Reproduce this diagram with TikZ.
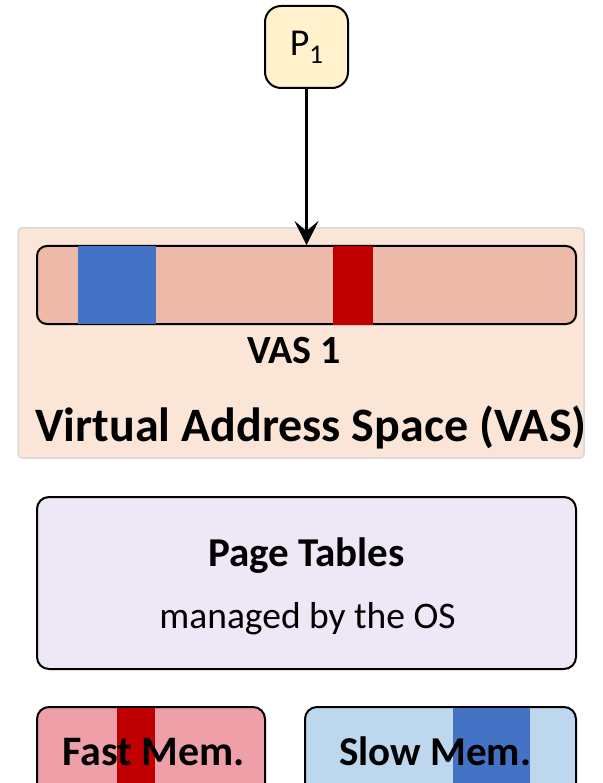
\documentclass[tikz,border=0pt]{standalone}
\usepackage{fontspec}
\setmainfont{Carlito}
\usetikzlibrary{arrows.meta}
\definecolor{procfill}{HTML}{FFF2CC}
\definecolor{vasfill}{HTML}{FBE5D6}
\definecolor{vasborder}{HTML}{D9D9D9}
\definecolor{barfill}{HTML}{EDBAAA}
\definecolor{pageblue}{HTML}{4472C4}
\definecolor{pagered}{HTML}{C00000}
\definecolor{ptfill}{HTML}{EEE7F5}
\definecolor{fastfill}{HTML}{EE9FA8}
\definecolor{slowfill}{HTML}{BDD7EE}
\tikzset{
  blackbox/.style={draw=black, line width=2pt, inner sep=0pt},
  boldlabel/.style={font=\bfseries\fontsize{#1}{#1}\selectfont, inner sep=0pt, anchor=base},
  plainlabel/.style={font=\fontsize{#1}{#1}\selectfont, inner sep=0pt, anchor=base},
}
\begin{document}
\begin{tikzpicture}[x=1pt,y=-1pt]
\useasboundingbox (0,0) rectangle (602,783);
\clip (0,0) rectangle (602,783);

% process
\node[blackbox, fill=procfill, rounded corners=16pt, minimum width=83pt, minimum height=82pt,
      font=\fontsize{38}{38}\selectfont] (p1) at (306.5,47)
  {P\raisebox{-8pt}{\fontsize{27}{27}\selectfont 1}};

% virtual address space container
\node[draw=vasborder, fill=vasfill, line width=1.5pt, rounded corners=4pt, inner sep=0pt,
      minimum width=566pt, minimum height=230pt] (vas) at (301,343) {};

% address range of VAS 1 with two mapped pages
\node[blackbox, fill=barfill, rounded corners=10pt, minimum width=539pt, minimum height=78pt]
  (bar) at (306.5,285) {};
\fill[pageblue] (78,246) rectangle (156,324);
\fill[pagered] (333,246) rectangle (373,325);

\draw[line width=3pt, -{Stealth[length=24pt,width=24pt,inset=10pt]}] (p1.south) -- (bar.north);

\node[boldlabel=40] (vas1) at (294,363) {VAS 1};
\node[boldlabel=48] (vastitle) at (311,441) {Virtual Address Space (VAS)};

% page tables
\node[blackbox, fill=ptfill, rounded corners=12pt, minimum width=539pt, minimum height=172pt]
  (pt) at (306.5,583) {};
\node[boldlabel=41] (pttitle) at (306.5,566) {Page Tables};
\node[plainlabel=37.5] (ptsub) at (307.5,628) {managed by the OS};

% physical memories
\node[blackbox, fill=fastfill, rounded corners=12pt, minimum width=228pt, minimum height=110pt]
  (fast) at (151,762) {};
\fill[pagered] (117,708) rectangle (155,790);
\node[boldlabel=42] (fastlabel) at (153.5,765) {Fast Mem.};

\node[blackbox, fill=slowfill, rounded corners=12pt, minimum width=271pt, minimum height=110pt]
  (slow) at (440.5,762) {};
\fill[pageblue] (453,708) rectangle (530,790);
\node[boldlabel=41] (slowlabel) at (435,765) {Slow Mem.};
\end{tikzpicture}
\end{document}
